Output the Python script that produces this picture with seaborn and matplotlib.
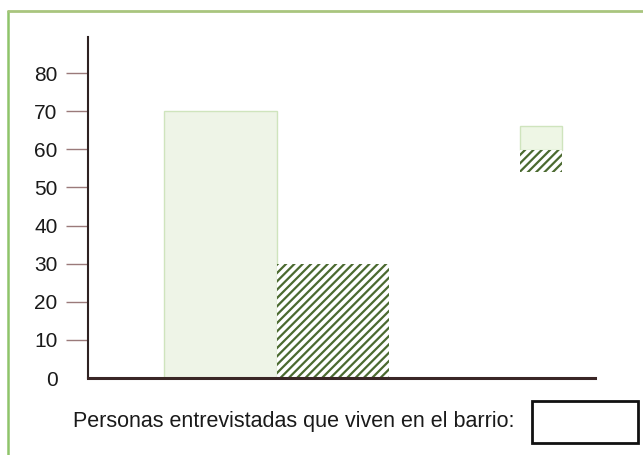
import matplotlib
matplotlib.use("Agg")
import matplotlib.pyplot as plt
from matplotlib.lines import Line2D
from matplotlib.patches import Rectangle
import seaborn as sns
import pandas as pd

### data
categorias = ["viven en el barrio", "no viven en el barrio"]
personas = [70, 30]
marcas_y = [0, 10, 20, 30, 40, 50, 60, 70, 80]
texto_pie = "Personas entrevistadas que viven en el barrio:"

verde_claro = "#eef6e5"
borde_claro = "#cfe4bd"
verde_oscuro = "#4b6a30"

### style
sns.set_theme(style="white")
plt.rcParams["font.family"] = ["Liberation Sans", "DejaVu Sans"]
plt.rcParams["hatch.linewidth"] = 1.6

df = pd.DataFrame({"cat": categorias, "n": personas})

fig = plt.figure(figsize=(6.43, 4.55), dpi=100)
ax = fig.add_axes([88 / 643, 1 - 378 / 455, 507 / 643, 341 / 455])

sns.barplot(data=df, x="cat", y="n", hue="cat", palette=[verde_claro, "white"],
            width=1.0, legend=False, ax=ax)

# light bar and hatched bar
ax.patches[0].set_edgecolor(borde_claro)
ax.patches[0].set_linewidth(1.0)
ax.patches[1].set_edgecolor(verde_oscuro)
ax.patches[1].set_linewidth(0)
ax.patches[1].set_hatch("////")

ax.set_xlim(-1.17, 3.32)
ax.set_ylim(0, 89.5)
ax.set_yticks(marcas_y)
ax.set_xticks([])
ax.set_xlabel("")
ax.set_ylabel("")

for s in ["top", "right"]:
    ax.spines[s].set_visible(False)
ax.spines["left"].set_color("#2e2222")
ax.spines["left"].set_linewidth(1.5)
ax.spines["bottom"].set_color("#3a2626")
ax.spines["bottom"].set_linewidth(2.2)

ax.tick_params(axis="y", direction="out", length=16, width=1.0, color="#9a7a7a",
               pad=6, labelsize=15, labelcolor="#1a1a1a", left=True)
# no tick mark at zero, only the label
ax.yaxis.get_major_ticks()[0].tick1line.set_visible(False)

### key in the upper right
ax.add_patch(Rectangle((0.852, 0.669), 0.083, 0.07, transform=ax.transAxes,
                       facecolor=verde_claro, edgecolor=borde_claro, lw=1.0, clip_on=False))
ax.add_patch(Rectangle((0.852, 0.604), 0.083, 0.065, transform=ax.transAxes,
                       facecolor="white", edgecolor=verde_oscuro, lw=0, hatch="////",
                       clip_on=False))

### page frame
fig.add_artist(Line2D([8 / 643, 8 / 643], [0, 1 - 11 / 455], transform=fig.transFigure,
                      color="#8fc46a", lw=1.8))
fig.add_artist(Line2D([8 / 643, 1], [1 - 11 / 455, 1 - 11 / 455], transform=fig.transFigure,
                      color="#a9c57e", lw=2.0))

### caption with answer box
fig.text(73 / 643, 1 - 422 / 455, texto_pie, ha="left", va="center",
         fontsize=15.5, color="#1a1a1a")
fig.add_artist(Rectangle((532 / 643, 1 - 443 / 455), 106 / 643, 42 / 455,
                         transform=fig.transFigure, fill=False, edgecolor="#111111", lw=2))

fig.savefig("out.png", dpi=100)
